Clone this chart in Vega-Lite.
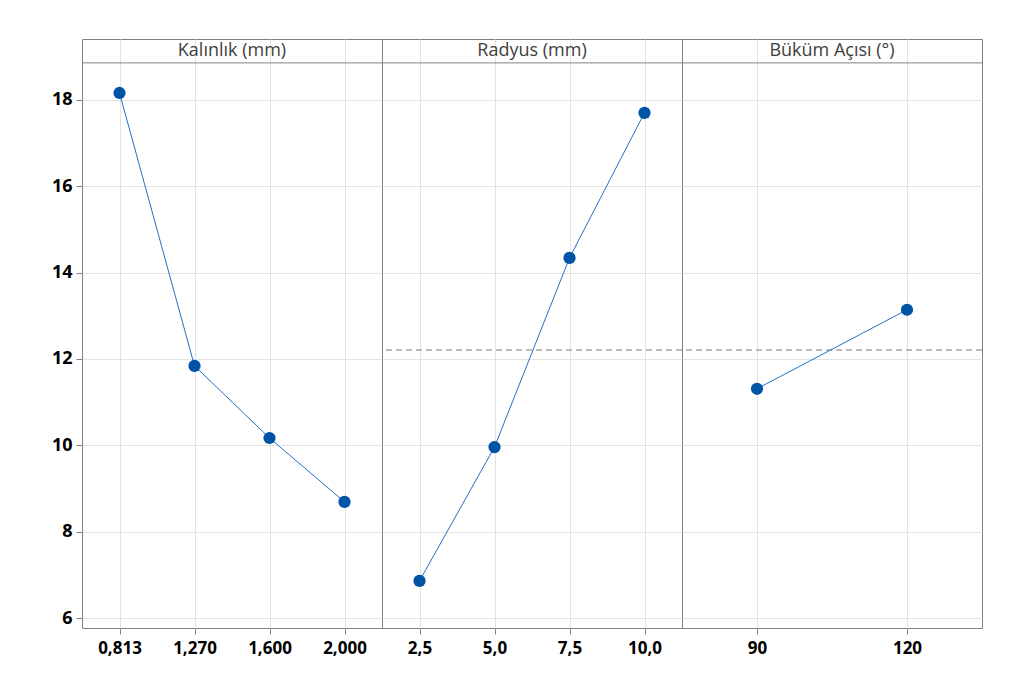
{
  "$schema": "https://vega.github.io/schema/vega-lite/v6.json",
  "background": "white",
  "padding": {"left": 47, "top": 38, "right": 10, "bottom": 10},
  "autosize": {"type": "pad"},
  "bounds": "flush",
  "datasets": {
    "effects": [
      {"factor": "Kalınlık (mm)", "level": "0,813", "mean": 18.16},
      {"factor": "Kalınlık (mm)", "level": "1,270", "mean": 11.84},
      {"factor": "Kalınlık (mm)", "level": "1,600", "mean": 10.17},
      {"factor": "Kalınlık (mm)", "level": "2,000", "mean": 8.69},
      {"factor": "Radyus (mm)", "level": "2,5", "mean": 6.86},
      {"factor": "Radyus (mm)", "level": "5,0", "mean": 9.96},
      {"factor": "Radyus (mm)", "level": "7,5", "mean": 14.34},
      {"factor": "Radyus (mm)", "level": "10,0", "mean": 17.70},
      {"factor": "Büküm Açısı (°)", "level": "90", "mean": 11.31},
      {"factor": "Büküm Açısı (°)", "level": "120", "mean": 13.14}
    ]
  },
  "data": {"name": "effects"},
  "spacing": 0,
  "config": {
    "view": {"stroke": "#808080", "strokeWidth": 1},
    "font": "Open Sans",
    "axis": {
      "labelFont": "Open Sans",
      "labelFontWeight": "bold",
      "labelFontSize": 17,
      "labelColor": "#000000",
      "tickColor": "#808080",
      "tickSize": 6,
      "gridColor": "#e3e3e3",
      "gridWidth": 1,
      "domain": false,
      "title": null
    }
  },
  "hconcat": [
    {
      "width": 300,
      "height": 589,
      "transform": [{"filter": "datum.factor === 'Kalınlık (mm)'"}],
      "layer": [
        {
          "mark": {"type": "rule", "color": "#808080", "strokeWidth": 1},
          "transform": [{"aggregate": [{"op": "count", "as": "n"}], "groupby": ["factor"]}],
          "encoding": {"y": {"datum": 18.857, "type": "quantitative", "scale": {"domain": [5.77, 19.41], "nice": false, "zero": false}}}
        },
        {
          "mark": {"type": "text", "fontSize": 18, "color": "#404040", "baseline": "middle", "font": "Open Sans"},
          "transform": [{"aggregate": [{"op": "count", "as": "n"}], "groupby": ["factor"]}],
          "encoding": {
            "y": {"datum": 19.13, "type": "quantitative"},
            "text": {"field": "factor", "type": "nominal"}
          }
        },
        {
          "mark": {"type": "line", "color": "#2270c8", "strokeWidth": 1},
          "encoding": {
            "x": {"field": "level", "type": "nominal", "sort": null, "scale": {"type": "point", "padding": 0.5}, "axis": {"labelAngle": 0, "grid": true, "labelPadding": 6}},
            "y": {"field": "mean", "type": "quantitative", "scale": {"domain": [5.77, 19.41], "nice": false, "zero": false}, "axis": {"values": [6, 8, 10, 12, 14, 16, 18], "grid": true, "labelPadding": 4, "labelFontSize": 18, "minExtent": 34, "maxExtent": 34}}
          }
        },
        {
          "mark": {"type": "point", "filled": true, "opacity": 1, "color": "#0054a6", "size": 150},
          "encoding": {
            "x": {"field": "level", "type": "nominal", "sort": null},
            "y": {"field": "mean", "type": "quantitative"}
          }
        }
      ]
    },
    {
      "width": 300,
      "height": 589,
      "transform": [{"filter": "datum.factor === 'Radyus (mm)'"}],
      "layer": [
        {
          "mark": {"type": "rule", "color": "#808080", "strokeWidth": 1},
          "transform": [{"aggregate": [{"op": "count", "as": "n"}], "groupby": ["factor"]}],
          "encoding": {"y": {"datum": 18.857, "type": "quantitative", "scale": {"domain": [5.77, 19.41], "nice": false, "zero": false}}}
        },
        {
          "mark": {"type": "text", "fontSize": 18, "color": "#404040", "baseline": "middle", "font": "Open Sans"},
          "transform": [{"aggregate": [{"op": "count", "as": "n"}], "groupby": ["factor"]}],
          "encoding": {
            "y": {"datum": 19.13, "type": "quantitative"},
            "text": {"field": "factor", "type": "nominal"}
          }
        },
        {
          "mark": {"type": "rule", "color": "#a6a6a6", "strokeWidth": 1.5, "strokeDash": [6, 4]},
          "transform": [{"aggregate": [{"op": "count", "as": "n"}], "groupby": ["factor"]}],
          "encoding": {"y": {"datum": 12.21, "type": "quantitative"}}
        },
        {
          "mark": {"type": "line", "color": "#2270c8", "strokeWidth": 1},
          "encoding": {
            "x": {"field": "level", "type": "nominal", "sort": null, "scale": {"type": "point", "padding": 0.5}, "axis": {"labelAngle": 0, "grid": true, "labelPadding": 6}},
            "y": {"field": "mean", "type": "quantitative", "scale": {"domain": [5.77, 19.41], "nice": false, "zero": false}, "axis": {"values": [6, 8, 10, 12, 14, 16, 18], "grid": true, "labels": false, "ticks": false, "minExtent": 0, "maxExtent": 0}}
          }
        },
        {
          "mark": {"type": "point", "filled": true, "opacity": 1, "color": "#0054a6", "size": 150},
          "encoding": {
            "x": {"field": "level", "type": "nominal", "sort": null},
            "y": {"field": "mean", "type": "quantitative"}
          }
        }
      ]
    },
    {
      "width": 300,
      "height": 589,
      "transform": [{"filter": "datum.factor === 'Büküm Açısı (°)'"}],
      "layer": [
        {
          "mark": {"type": "rule", "color": "#808080", "strokeWidth": 1},
          "transform": [{"aggregate": [{"op": "count", "as": "n"}], "groupby": ["factor"]}],
          "encoding": {"y": {"datum": 18.857, "type": "quantitative", "scale": {"domain": [5.77, 19.41], "nice": false, "zero": false}}}
        },
        {
          "mark": {"type": "text", "fontSize": 18, "color": "#404040", "baseline": "middle", "font": "Open Sans"},
          "transform": [{"aggregate": [{"op": "count", "as": "n"}], "groupby": ["factor"]}],
          "encoding": {
            "y": {"datum": 19.13, "type": "quantitative"},
            "text": {"field": "factor", "type": "nominal"}
          }
        },
        {
          "mark": {"type": "rule", "color": "#a6a6a6", "strokeWidth": 1.5, "strokeDash": [6, 4]},
          "transform": [{"aggregate": [{"op": "count", "as": "n"}], "groupby": ["factor"]}],
          "encoding": {"y": {"datum": 12.21, "type": "quantitative"}}
        },
        {
          "mark": {"type": "line", "color": "#2270c8", "strokeWidth": 1},
          "encoding": {
            "x": {"field": "level", "type": "nominal", "sort": null, "scale": {"type": "point", "padding": 0.5}, "axis": {"labelAngle": 0, "grid": true, "labelPadding": 6}},
            "y": {"field": "mean", "type": "quantitative", "scale": {"domain": [5.77, 19.41], "nice": false, "zero": false}, "axis": {"values": [6, 8, 10, 12, 14, 16, 18], "grid": true, "labels": false, "ticks": false, "minExtent": 0, "maxExtent": 0}}
          }
        },
        {
          "mark": {"type": "point", "filled": true, "opacity": 1, "color": "#0054a6", "size": 150},
          "encoding": {
            "x": {"field": "level", "type": "nominal", "sort": null},
            "y": {"field": "mean", "type": "quantitative"}
          }
        }
      ]
    }
  ]
}
